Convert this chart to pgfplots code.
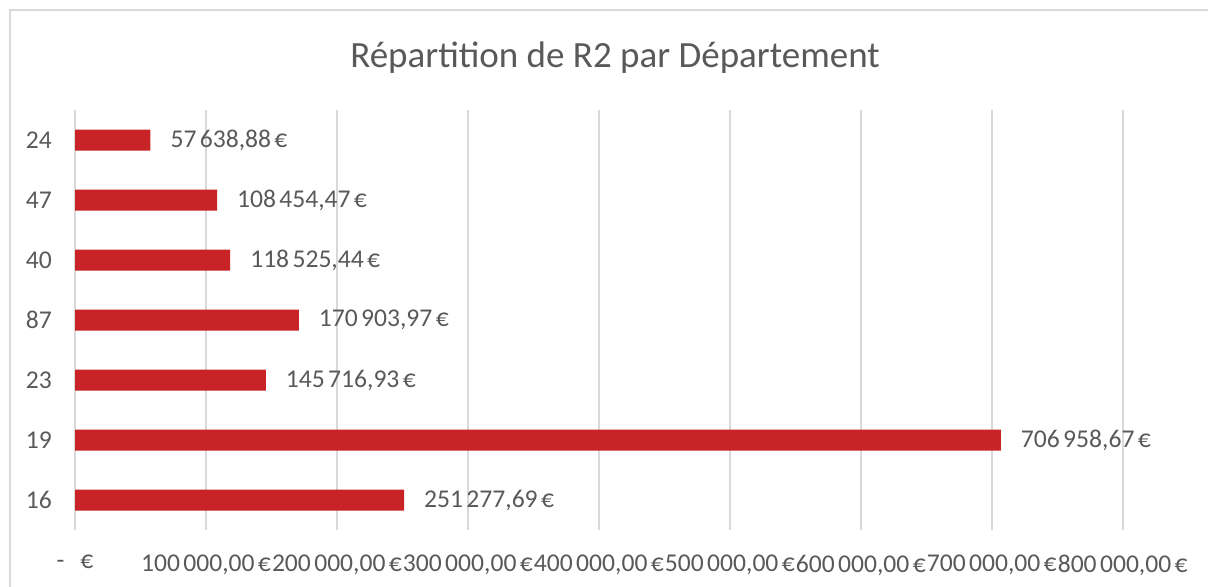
\documentclass[border=0pt]{standalone}
\usepackage{fontspec}
\setmainfont{Carlito}
\usepackage{pgfplots}
\pgfplotsset{compat=1.18}
\definecolor{barred}{RGB}{200,35,39}
\definecolor{txt}{RGB}{89,89,89}
\definecolor{gridc}{RGB}{217,217,217}
\newcommand{\s}{\kern0.13em}
\begin{document}
\begin{tikzpicture}
\useasboundingbox (0,0) rectangle (604pt,293pt);
\draw[gridc, line width=1pt] (5pt,-10pt) -- (5pt,288pt) -- (620pt,288pt);
\node[font=\fontsize{18.5}{22}\selectfont, text=txt] at (307.5pt,264pt) {Répartition de R2 par Département};
\begin{axis}[
  at={(37.5pt,28pt)}, anchor=south west,
  scale only axis, width=523.85pt, height=210pt,
  xbar, bar width=10.5pt,
  xmin=0, xmax=800000, ymin=-0.5, ymax=6.5,
  ytick={0,...,6}, yticklabels={16,19,23,87,40,47,24},
  xtick={0,100000,200000,300000,400000,500000,600000,700000,800000},
  xticklabels={{-\hspace{8pt}€},{100\s000,00\s€},{200\s000,00\s€},{300\s000,00\s€},{400\s000,00\s€},{500\s000,00\s€},{600\s000,00\s€},{700\s000,00\s€},{800\s000,00\s€}},
  scaled x ticks=false,
  xmajorgrids, grid style={gridc, line width=1.1pt},
  axis line style={draw=none},
  major tick length=0,
  tick label style={font=\fontsize{12.8}{15}\selectfont, text=txt},
  yticklabel style={xshift=-8pt},
  xticklabel style={yshift=-9pt},
  point meta=explicit symbolic,
  nodes near coords,
  nodes near coords style={anchor=west, font=\fontsize{12.8}{15}\selectfont, text=txt, xshift=6.5pt},
  clip=false,
]
\addplot[fill=barred, draw=none] coordinates {
  (251277.69,0) [251\s277,69\s€]
  (706958.67,1) [706\s958,67\s€]
  (145716.93,2) [145\s716,93\s€]
  (170903.97,3) [170\s903,97\s€]
  (118525.44,4) [118\s525,44\s€]
  (108454.47,5) [108\s454,47\s€]
  (57638.88,6) [57\s638,88\s€]
};
\end{axis}
\end{tikzpicture}
\end{document}
